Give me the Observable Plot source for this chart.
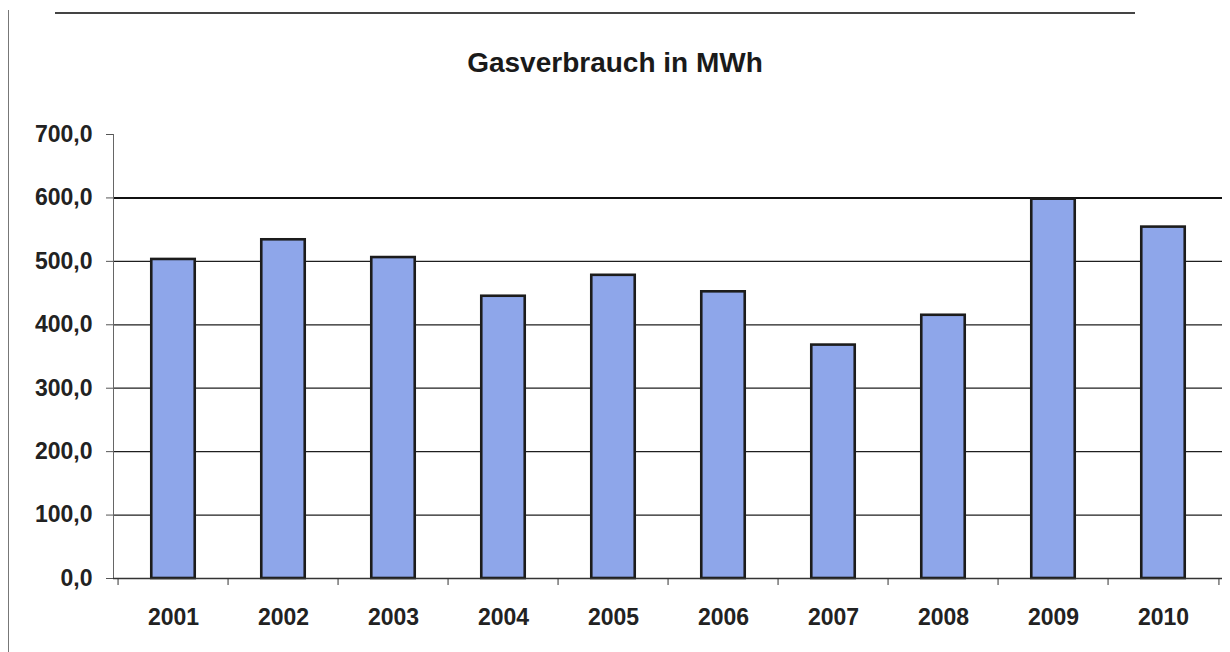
<!DOCTYPE html>
<html><head><meta charset="utf-8">
<script src="https://cdn.jsdelivr.net/npm/d3@7"></script>
<script src="https://cdn.jsdelivr.net/npm/@observablehq/plot@0.6"></script>
<style>
body{margin:0;background:#fff;}
#wrap{position:relative;width:1230px;height:652px;overflow:hidden;}
#title{position:absolute;left:0;width:1230px;top:49px;text-align:center;font:bold 28px "Liberation Sans",Arial,sans-serif;line-height:28px;color:#1a1a1a;}
#frameL{position:absolute;left:8px;top:10px;width:0;height:642px;border-left:1px solid #777;}
#frameT{position:absolute;left:55px;top:12px;width:1080px;height:0;border-top:2px solid #444;}
#chart{position:absolute;left:0;top:0;}
</style></head>
<body><div id="wrap"><div id="frameT"></div><div id="frameL"></div><div id="chart"></div><div id="title">Gasverbrauch in MWh</div></div>
<script>
const years = ["2001","2002","2003","2004","2005","2006","2007","2008","2009","2010"];
const values = [503, 534, 506, 445, 478, 452, 368, 415, 598, 554];
const yTicks = [0, 100, 200, 300, 400, 500, 600, 700];
const gridTicks = [100, 200, 300, 400, 500, 600];

const data = years.map((y, i) => ({year: y, value: values[i]}));
const W = 1230, H = 652, mL = 113, mR = 8, mT = 134, mB = 74;
const step = (W - mL - mR) / years.length;
const fmt = d => d.toFixed(1).replace(".", ",");

const chart = Plot.plot({
  width: W, height: H,
  marginLeft: mL, marginRight: mR, marginTop: mT, marginBottom: mB,
  style: {background: "transparent", fontFamily: "'Liberation Sans', Arial, sans-serif", color: "#222"},
  x: {domain: years, padding: 0},
  y: {domain: [0, 700]},
  marks: [
    Plot.gridY(gridTicks, {stroke: "#1e1e1e", strokeOpacity: 1, strokeWidth: 1.3}),
    Plot.gridY([600], {stroke: "#111", strokeOpacity: 1, strokeWidth: 2}),
    Plot.barY(data, {x: "year", y: "value", fill: "#8ea6ea", stroke: "#1c1c1c", strokeWidth: 2.6,
      insetLeft: step * 0.3, insetRight: step * 0.3}),
    Plot.frame({anchor: "left", stroke: "#666"}),
    Plot.ruleY([0], {stroke: "#333", strokeWidth: 1.5}),
    Plot.axisY(yTicks, {tickSize: 7, tickPadding: 14, fontSize: 23, fontWeight: "bold",
      tickFormat: fmt, label: null, stroke: "#555", fill: "#222"}),
    Plot.axisX(years, {tickSize: 0, tickPadding: 30, fontSize: 23, fontWeight: "bold", label: null, fill: "#222"}),
    Plot.axisX(years, {tickSize: 7, tickFormat: () => "", label: null, dx: -step / 2, stroke: "#333"}),
    Plot.axisX([years[years.length - 1]], {tickSize: 7, tickFormat: () => "", label: null, dx: step / 2, stroke: "#333"})
  ]
});
document.getElementById("chart").appendChild(chart);
</script>
</body></html>
